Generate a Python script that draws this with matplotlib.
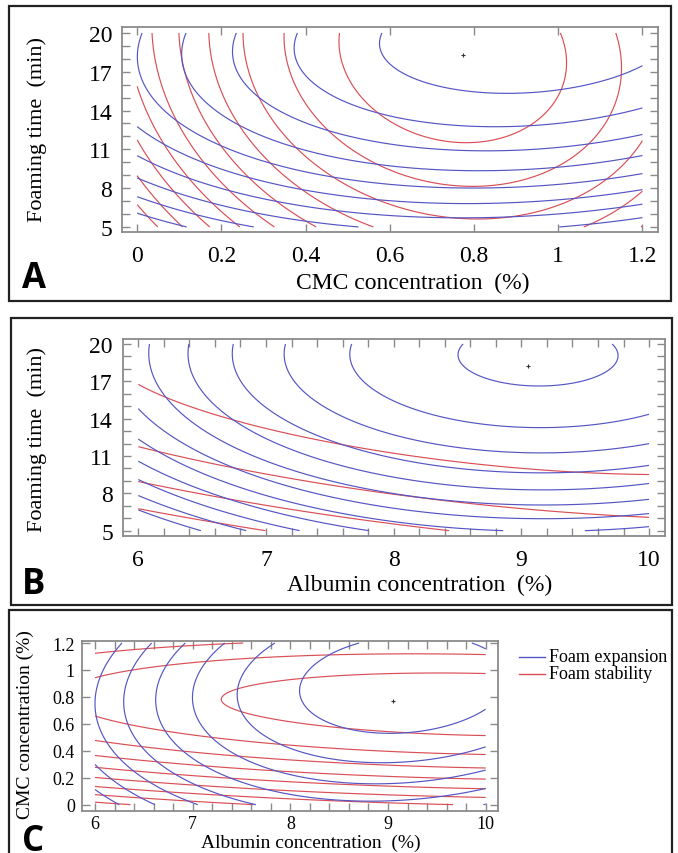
import numpy as np
import matplotlib
matplotlib.use("Agg")
import matplotlib.pyplot as plt
from matplotlib.patches import Rectangle
from matplotlib.ticker import MultipleLocator, FixedLocator

# ---------------- data ----------------
# Each list holds contour lines (innermost level first); every line is a list of
# (x, y) points read off the chart where that contour passes.

# Panel A : CMC concentration (%) vs foaming time (min)
a_cmc_ticks = [0, 0.2, 0.4, 0.6, 0.8, 1, 1.2]
a_time_ticks = [5, 8, 11, 14, 17, 20]
a_optimum = (0.774, 18.3)
a_expansion_lines = [
    [(0.58, 20.0), (0.573, 19.04), (0.592, 17.86), (0.612, 17.35), (0.679, 16.44), (0.759, 15.67),
     (0.877, 15.28), (0.996, 15.54), (1.115, 16.57), (1.2, 17.66)],
    [(0.379, 20.0), (0.369, 18.76), (0.386, 17.08), (0.434, 15.8), (0.513, 14.38), (0.60, 13.43),
     (0.759, 12.83), (0.90, 12.65), (1.036, 13.02), (1.2, 14.26)],
    [(0.236, 20.0), (0.227, 18.6), (0.232, 17.35), (0.26, 15.8), (0.315, 14.25), (0.434, 12.71),
     (0.60, 11.3), (0.83, 10.82), (0.996, 11.03), (1.2, 12.19)],
    [(0.116, 20.0), (0.105, 17.6), (0.117, 16.31), (0.165, 14.76), (0.276, 12.96), (0.434, 11.16),
     (0.60, 9.61), (0.80, 9.36), (0.996, 9.66), (1.2, 10.51)],
    [(0.013, 20.0), (0.0, 18.1), (0.60, 8.19), (0.80, 8.0), (1.2, 9.04)],
    [(0.0, 12.65), (0.60, 7.03), (0.80, 6.8), (1.2, 7.88)],
    [(0.0, 10.46), (0.60, 5.87), (0.80, 5.75), (1.2, 6.78)],
    [(0.0, 8.79), (0.52, 5.0), (1.0, 5.0), (1.2, 5.80)],
    [(0.0, 7.29), (0.28, 5.0)],
    [(0.0, 6.05), (0.118, 5.0)],
]
a_stability_lines = [
    [(0.477, 20.0), (0.513, 16.57), (0.612, 13.6), (0.759, 11.3), (0.838, 11.55), (0.941, 12.96),
     (1.008, 15.54), (1.02, 18.12), (1.006, 20.0)],
    [(0.347, 20.0), (0.355, 16.8), (0.434, 12.45), (0.612, 9.87), (0.782, 8.07), (0.996, 9.61),
     (1.115, 12.96), (1.147, 17.35), (1.137, 20.0)],
    [(0.252, 20.0), (0.323, 13.35), (0.60, 6.78), (0.838, 5.61), (1.2, 11.67)],
    [(0.169, 20.0), (0.236, 13.35), (0.558, 5.0), (1.07, 5.0), (1.2, 7.8)],
    [(0.101, 20.0), (0.157, 13.35), (0.422, 5.0), (1.2, 5.2)],
    [(0.037, 20.0), (0.09, 13.35), (0.325, 5.0)],
    [(0.0, 15.93), (0.03, 13.35), (0.244, 5.0)],
    [(0.0, 11.72), (0.173, 5.0)],
    [(0.0, 8.84), (0.109, 5.0)],
    [(0.0, 6.78), (0.05, 5.0)],
]

# Panel B : albumin concentration (%) vs foaming time (min)
b_alb_ticks = [6, 7, 8, 9, 10]
b_time_ticks = [5, 8, 11, 14, 17, 20]
b_optimum = (9.054, 18.26)
b_expansion_lines = [
    [(8.51, 20.0), (8.50, 19.2), (8.65, 17.59), (9.09, 16.71), (9.537, 17.59), (9.77, 19.2), (9.76, 20.0)],
    [(7.671, 20.0), (7.684, 17.59), (7.971, 15.72), (9.12, 13.36), (10.0, 14.43)],
    [(7.162, 20.0), (7.175, 17.32), (7.42, 14.64), (7.971, 12.85), (9.12, 11.24), (10.0, 12.10)],
    [(6.757, 20.0), (6.757, 17.32), (7.031, 14.1), (7.971, 10.95), (9.12, 9.69), (10.0, 10.28)],
    [(6.413, 20.0), (6.418, 17.32), (7.971, 9.34), (9.12, 8.35), (10.0, 8.76)],
    [(6.11, 20.0), (7.971, 8.0), (9.12, 7.15), (10.0, 7.49)],
    [(6.0, 15.10), (7.971, 6.88), (9.12, 6.08), (10.0, 6.21)],
    [(6.0, 12.50), (7.971, 5.94), (8.73, 5.0), (9.60, 5.0), (10.0, 5.28)],
    [(6.0, 10.63), (7.79, 5.0)],
    [(6.0, 9.10), (7.26, 5.0)],
    [(6.0, 7.77), (6.85, 5.0)],
    [(6.0, 6.61), (6.49, 5.0)],
]
b_stability_lines = [
    [(6.0, 16.47), (6.274, 15.45), (6.744, 13.98), (7.162, 12.91), (7.527, 12.10), (7.99, 11.4),
     (8.754, 10.28), (9.406, 9.74), (10.0, 9.37)],
    [(6.0, 11.89), (6.64, 10.09), (7.423, 8.62), (7.99, 7.9), (8.754, 7.01), (9.406, 6.48), (10.0, 6.08)],
    [(6.0, 9.02), (6.64, 7.69), (7.423, 6.35), (8.01, 5.41), (8.53, 5.0)],
    [(6.0, 6.69), (6.379, 6.13), (7.005, 5.0)],
]

# Panel C : albumin concentration (%) vs CMC concentration (%)
c_alb_ticks = [6, 7, 8, 9, 10]
c_cmc_ticks = [0, 0.2, 0.4, 0.6, 0.8, 1, 1.2]
c_optimum = (9.053, 0.772)
c_expansion_lines = [
    [(8.866, 1.2), (8.337, 1.106), (8.07, 0.859), (8.508, 0.586), (9.122, 0.512), (9.634, 0.549),
     (10.0, 0.643), (9.634, 1.2), (10.0, 1.118)],
    [(7.86, 1.2), (7.443, 0.784), (8.03, 0.438), (9.02, 0.315), (10.0, 0.396)],
    [(7.348, 1.2), (7.006, 0.784), (9.02, 0.166), (10.0, 0.24)],
    [(6.904, 1.2), (6.614, 0.784), (9.02, 0.067), (10.0, 0.111)],
    [(6.563, 1.2), (6.29, 0.784), (7.638, 0.0), (9.89, 0.0), (10.0, 0.018)],
    [(6.249, 1.2), (6.0, 0.83), (6.95, 0.0)],
    [(6.0, 0.364), (6.494, 0.0)],
    [(6.0, 0.19), (6.171, 0.0)],
]
c_stability_lines = [
    [(7.348, 0.784), (8.03, 0.92), (8.678, 0.963), (10.0, 0.970), (8.03, 0.623), (8.678, 0.574), (10.0, 0.512)],
    [(6.0, 0.938), (6.87, 1.044), (8.03, 1.106), (9.02, 1.118), (10.0, 1.118),
     (6.0, 0.666), (6.87, 0.512), (8.03, 0.426), (10.0, 0.376)],
    [(6.0, 1.124), (6.7, 1.168), (7.45, 1.2), (6.0, 0.48), (10.0, 0.272)],
    [(6.0, 0.359), (10.0, 0.191)],
    [(6.0, 0.282), (10.0, 0.111)],
    [(6.0, 0.203), (10.0, 0.055)],
    [(6.0, 0.137), (9.75, 0.0)],
    [(6.0, 0.07), (7.68, 0.0)],
    [(6.0, 0.018), (6.41, 0.0)],
]

legend_labels = ["Foam expansion", "Foam stability"]

# ---------------- helpers ----------------
BLUE = "#5555c4"
RED = "#d94f55"
FRAME = "#8a8a8a"
W, H = 678, 854
SERIF = ["Liberation Serif", "DejaVu Serif"]
SANS_B = ["Open Sans", "DejaVu Sans"]

fig = plt.figure(figsize=(W / 100, H / 100), dpi=100)


def rect(l, r, t, b):
    return [l / W, 1 - b / H, (r - l) / W, (b - t) / H]


def fit_surface(lines, xr, yr):
    xs, ys, zs = [], [], []
    for k, line in enumerate(lines, start=1):
        for (x, y) in line:
            xs.append(x); ys.append(y); zs.append(-float(k))
    xs, ys, zs = map(np.asarray, (xs, ys, zs))
    u = (xs - xr[0]) / (xr[1] - xr[0])
    v = (ys - yr[0]) / (yr[1] - yr[0])
    A = np.column_stack([np.ones_like(u), u, v, u * u, u * v, v * v])
    coef, *_ = np.linalg.lstsq(A, zs, rcond=None)
    gx = np.linspace(xr[0], xr[1], 400)
    gy = np.linspace(yr[0], yr[1], 400)
    GX, GY = np.meshgrid(gx, gy)
    U = (GX - xr[0]) / (xr[1] - xr[0])
    V = (GY - yr[0]) / (yr[1] - yr[0])
    Z = (coef[0] + coef[1] * U + coef[2] * V + coef[3] * U * U + coef[4] * U * V + coef[5] * V * V)
    levels = -np.arange(len(lines), 0, -1).astype(float)
    return GX, GY, Z, levels


def draw_panel(ax, exp_lines, stab_lines, xr, yr, optimum, lw=0.85):
    for lines, col in ((stab_lines, RED), (exp_lines, BLUE)):
        GX, GY, Z, lev = fit_surface(lines, xr, yr)
        ax.contour(GX, GY, Z, levels=lev, colors=col, linewidths=lw, linestyles="solid")
    ax.plot([optimum[0]], [optimum[1]], marker="+", color="#333333", ms=3.5, mew=0.8, ls="none")


def style(ax, fs):
    for s in ax.spines.values():
        s.set_color(FRAME)
        s.set_linewidth(1.3)
    ax.tick_params(which="both", direction="in", top=True, right=True, color=FRAME,
                   length=6, width=1.0, labelsize=fs)
    for lab in ax.get_xticklabels() + ax.get_yticklabels():
        lab.set_fontfamily(SERIF)


def fmt(v):
    return "%g" % v


def ftext(x, y, s, **kw):
    fig.text(x / W, 1 - y / H, s, **kw)


# ---------------- panel frames ----------------
for (l, t, r, b) in [(9, 7, 671, 302), (11, 319, 672, 606), (9, 611, 672, 870)]:
    fig.patches.append(Rectangle((l / W, 1 - b / H), (r - l) / W, (b - t) / H, transform=fig.transFigure,
                                 fill=False, edgecolor="#222222", linewidth=1.6, zorder=0))

# ---------------- panel A ----------------
axA = fig.add_axes(rect(122, 658, 28, 233))
draw_panel(axA, a_expansion_lines, a_stability_lines, (0, 1.2), (5, 20), a_optimum)
axA.set_xlim(-0.036, 1.237)
axA.set_ylim(4.61, 20.46)
axA.xaxis.set_major_locator(FixedLocator(a_cmc_ticks))
axA.set_xticklabels([fmt(v) for v in a_cmc_ticks])
axA.yaxis.set_major_locator(FixedLocator(a_time_ticks))
axA.set_yticklabels([fmt(v) for v in a_time_ticks])
axA.yaxis.set_minor_locator(MultipleLocator(1))
style(axA, 17)
axA.tick_params(axis="x", pad=9)
axA.tick_params(axis="y", pad=7)
ftext(37, 130, "Foaming time  (min)", rotation=90, ha="center", va="center", fontsize=16, family=SERIF)
ftext(413, 283, "CMC concentration  (%)", ha="center", va="center", fontsize=17, family=SERIF)
ftext(22, 288, "A", ha="left", va="baseline", fontsize=25, fontweight="bold", family=SANS_B)

# ---------------- panel B ----------------
axB = fig.add_axes(rect(122.7, 665, 340, 537))
draw_panel(axB, b_expansion_lines, b_stability_lines, (6, 10), (5, 20), b_optimum)
axB.set_xlim(5.878, 10.125)
axB.set_ylim(4.57, 20.40)
axB.xaxis.set_major_locator(FixedLocator(b_alb_ticks))
axB.set_xticklabels([fmt(v) for v in b_alb_ticks])
axB.xaxis.set_minor_locator(MultipleLocator(0.2))
axB.yaxis.set_major_locator(FixedLocator(b_time_ticks))
axB.set_yticklabels([fmt(v) for v in b_time_ticks])
axB.yaxis.set_minor_locator(MultipleLocator(1))
style(axB, 17)
axB.tick_params(axis="x", pad=9)
axB.tick_params(axis="y", pad=7)
ftext(37, 440, "Foaming time  (min)", rotation=90, ha="center", va="center", fontsize=16, family=SERIF)
ftext(420, 585, "Albumin concentration  (%)", ha="center", va="center", fontsize=17, family=SERIF)
ftext(22, 594, "B", ha="left", va="baseline", fontsize=25, fontweight="bold", family=SANS_B)

# ---------------- panel C ----------------
axC = fig.add_axes(rect(81.7, 498, 642, 811.7))
draw_panel(axC, c_expansion_lines, c_stability_lines, (6, 10), (0, 1.2), c_optimum)
axC.set_xlim(5.864, 10.126)
axC.set_ylim(-0.045, 1.215)
axC.xaxis.set_major_locator(FixedLocator(c_alb_ticks))
axC.set_xticklabels([fmt(v) for v in c_alb_ticks])
axC.xaxis.set_minor_locator(MultipleLocator(0.2))
axC.yaxis.set_major_locator(FixedLocator(c_cmc_ticks))
axC.set_yticklabels([fmt(v) for v in c_cmc_ticks])
style(axC, 13)
axC.tick_params(axis="x", pad=3)
axC.tick_params(axis="y", pad=5)
ftext(25, 725, "CMC concentration (%)", rotation=90, ha="center", va="center", fontsize=14, family=SERIF)
ftext(311, 843, "Albumin concentration  (%)", ha="center", va="center", fontsize=14, family=SERIF)
ftext(22, 851, "C", ha="left", va="baseline", fontsize=25, fontweight="bold", family=SANS_B)

# legend
for i, (lab, col) in enumerate(zip(legend_labels, [BLUE, RED])):
    y = 658 + i * 17
    fig.add_artist(plt.Line2D([519 / W, 545 / W], [1 - y / H, 1 - y / H], color=col, lw=1.0,
                              transform=fig.transFigure))
    ftext(549, y, lab, ha="left", va="center", fontsize=13, family=SERIF)

fig.savefig("out.png", dpi=100)
